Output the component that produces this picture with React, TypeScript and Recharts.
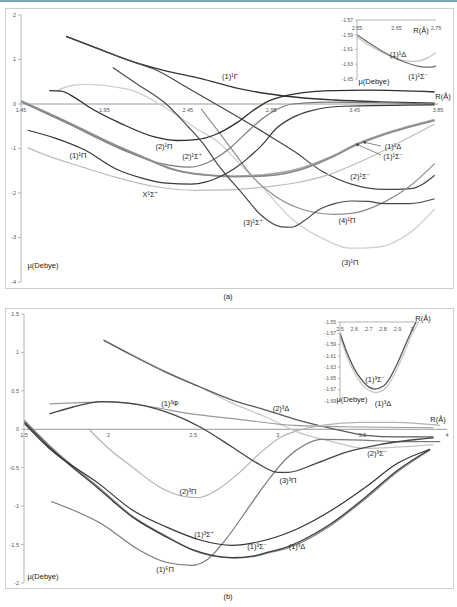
import React from 'react'
import { LineChart, Line, XAxis, YAxis, ReferenceLine, ReferenceDot } from 'recharts'

// dipole moment curves, panel (a) singlet states
type Pt = { x: number; y: number }
const pts = (a: number[][]): Pt[] => a.map(([x, y]) => ({ x, y }))

const aXTicks = [1.45, 1.95, 2.45, 2.95, 3.45, 3.95]
const aXLabels = ['1.45', '1.95', '2.45', '2.95', '3.45', '3.85']
const aYTicks = [-4, -3, -2, -1, 0, 1, 2]

const a1Gamma = pts([[1.72, 1.52], [1.9, 1.26], [2.12, 0.95], [2.3, 0.76], [2.53, 0.57], [2.73, 0.37], [2.93, 0.23], [3.13, 0.14], [3.33, 0.09], [3.6, 0.05], [3.93, 0.02]])
const a2SigmaM = pts([[1.72, 1.52], [1.9, 1.26], [2.12, 0.95], [2.25, 0.78], [2.45, 0.36], [2.7, -0.18], [2.95, -0.74], [3.09, -1.07], [3.25, -1.5], [3.43, -1.8], [3.63, -1.92], [3.79, -1.9], [3.93, -1.6]])
const a3SigmaP = pts([[2.0, 0.82], [2.15, 0.44], [2.32, 0.0], [2.45, -0.5], [2.54, -0.88], [2.63, -1.36], [2.77, -1.98], [2.89, -2.5], [3.01, -2.76], [3.07, -2.77], [3.15, -2.62], [3.23, -2.39], [3.33, -2.24], [3.43, -2.18], [3.53, -2.19], [3.63, -2.24], [3.78, -2.24], [3.93, -2.13]])
const a3Pi = pts([[1.67, 0.31], [1.75, 0.41], [1.85, 0.44], [2.0, 0.39], [2.12, 0.3], [2.32, -0.09], [2.5, -0.55], [2.63, -0.85], [2.75, -1.3], [2.88, -1.8], [3.08, -2.6], [3.28, -3.06], [3.42, -3.24], [3.58, -3.22], [3.78, -2.9], [3.93, -2.36]])
const a2Pi = pts([[1.62, 0.3], [1.69, 0.29], [1.77, 0.15], [1.85, -0.05], [2.05, -0.44], [2.25, -0.74], [2.38, -0.82], [2.5, -0.8], [2.62, -0.68], [2.74, -0.43], [2.84, -0.15], [2.93, 0.06], [3.03, 0.18], [3.13, 0.25], [3.33, 0.3], [3.53, 0.31], [3.93, 0.27]])
const a4Pi = pts([[2.53, -0.11], [2.63, -0.6], [2.73, -1.1], [2.83, -1.6], [2.93, -1.95], [3.13, -2.36], [3.33, -2.48], [3.43, -2.46], [3.63, -2.2], [3.78, -1.85], [3.93, -1.34]])
const a1Pi = pts([[1.49, -0.59], [1.65, -0.76], [1.83, -1.03], [2.02, -1.46], [2.17, -1.66], [2.32, -1.78], [2.47, -1.8], [2.56, -1.75], [2.66, -1.6], [2.73, -1.45], [2.8, -1.25], [2.9, -0.9], [2.98, -0.55], [3.08, -0.3], [3.18, -0.16], [3.38, -0.05], [3.93, -0.02]])
const aX1SigmaP = pts([[1.49, -0.98], [1.6, -1.15], [1.82, -1.42], [2.02, -1.65], [2.26, -1.86], [2.5, -1.94], [2.7, -1.93], [2.9, -1.87], [3.1, -1.77], [3.3, -1.58], [3.5, -1.27], [3.7, -0.9], [3.93, -0.45]])
const a1Delta = pts([[1.45, 0.07], [1.72, -0.39], [2.02, -0.93], [2.2, -1.22], [2.35, -1.45], [2.55, -1.593], [2.73, -1.62], [2.93, -1.58], [3.13, -1.44], [3.33, -1.15], [3.45, -0.92], [3.65, -0.64], [3.93, -0.35]])
const a1SigmaM = pts([[1.45, 0.06], [1.72, -0.4], [2.02, -0.94], [2.2, -1.23], [2.35, -1.46], [2.55, -1.59], [2.73, -1.634], [2.93, -1.61], [3.13, -1.47], [3.33, -1.17], [3.45, -0.94], [3.65, -0.66], [3.93, -0.37]])
const a2SigmaP = pts([[1.45, 0.05], [1.72, -0.42], [2.06, -1.03], [2.28, -1.33], [2.46, -1.42], [2.56, -1.33], [2.7, -1.0], [2.8, -0.65], [2.9, -0.32], [2.98, -0.13], [3.08, 0.0], [3.28, 0.04], [3.6, 0.03], [3.93, 0.0]])

// inset (a)
const iaXTicks = [2.55, 2.65, 2.75]
const iaYTicks = [-1.65, -1.63, -1.61, -1.59, -1.57]
const ia1SigmaM = pts([[2.55, -1.59], [2.58, -1.601], [2.61, -1.611], [2.64, -1.62], [2.67, -1.627], [2.7, -1.632], [2.72, -1.634], [2.74, -1.634], [2.75, -1.632]])
const ia1Delta = pts([[2.55, -1.593], [2.58, -1.604], [2.61, -1.613], [2.64, -1.62], [2.67, -1.625], [2.69, -1.626], [2.71, -1.625], [2.73, -1.621], [2.75, -1.614]])

// panel (b) triplet / quintet states
const bXTicks = [1.5, 2, 2.5, 3, 3.5, 4]
const bYTicks = [-2, -1.5, -1, -0.5, 0, 0.5, 1, 1.5]

const b2Delta = pts([[1.97, 1.16], [2.14, 0.96], [2.34, 0.74], [2.54, 0.55], [2.73, 0.38], [2.93, 0.25], [3.12, 0.12], [3.32, 0.01], [3.52, -0.08], [3.7, -0.1], [3.92, -0.1]])
const b2SigmaM = pts([[1.97, 1.16], [2.14, 0.97], [2.34, 0.75], [2.54, 0.55], [2.73, 0.34], [2.93, 0.16], [3.12, -0.04], [3.32, -0.16], [3.52, -0.25], [3.72, -0.23], [3.92, -0.2]])
const b1Phi = pts([[1.65, 0.33], [1.87, 0.35], [2.0, 0.36], [2.26, 0.29], [2.46, 0.21], [2.77, 0.13], [3.1, 0.05], [3.49, 0.03], [3.92, 0.02]])
const b3Pi = pts([[1.65, 0.2], [1.79, 0.29], [1.96, 0.36], [2.12, 0.34], [2.36, 0.21], [2.54, 0.03], [2.73, -0.23], [2.87, -0.43], [3.0, -0.56], [3.06, -0.56], [3.22, -0.45], [3.4, -0.3], [3.6, -0.2], [3.92, -0.11]])
const b2Pi = pts([[1.88, 0.01], [2.0, -0.25], [2.14, -0.49], [2.3, -0.75], [2.46, -0.88], [2.53, -0.89], [2.64, -0.79], [2.77, -0.57], [2.9, -0.3], [3.02, -0.1], [3.1, -0.03], [3.26, 0.05], [3.49, 0.09], [3.69, 0.09], [3.96, 0.05]])
const b5Pi = pts([[1.66, -0.94], [1.8, -1.06], [1.95, -1.22], [2.18, -1.57], [2.34, -1.73], [2.49, -1.77], [2.58, -1.7], [2.69, -1.44], [2.83, -1.01], [2.93, -0.7], [3.06, -0.36], [3.16, -0.2], [3.26, -0.13], [3.5, -0.14], [3.7, -0.16], [3.96, -0.16]])
const b1SigmaM = pts([[1.5, 0.1], [1.65, -0.23], [1.95, -0.79], [2.14, -1.14], [2.34, -1.4], [2.5, -1.57], [2.6, -1.635], [2.73, -1.67], [2.85, -1.65], [2.95, -1.595], [3.03, -1.55], [3.12, -1.47], [3.32, -1.22], [3.52, -0.88], [3.71, -0.53], [3.9, -0.26]])
const b1Delta = pts([[1.5, 0.12], [1.65, -0.21], [1.95, -0.77], [2.14, -1.13], [2.34, -1.39], [2.5, -1.575], [2.6, -1.64], [2.75, -1.676], [2.85, -1.658], [2.95, -1.605], [3.05, -1.55], [3.12, -1.49], [3.32, -1.24], [3.52, -0.9], [3.71, -0.55], [3.9, -0.27]])
const b1SigmaP = pts([[1.5, 0.08], [1.65, -0.25], [1.95, -0.72], [2.14, -1.05], [2.34, -1.27], [2.54, -1.44], [2.73, -1.51], [2.93, -1.44], [3.12, -1.29], [3.32, -1.05], [3.52, -0.75], [3.71, -0.44], [3.9, -0.26]])

// inset (b)
const ibXTicks = [2.5, 2.6, 2.7, 2.8, 2.9, 3]
const ibYTicks = [-1.69, -1.67, -1.65, -1.63, -1.61, -1.59, -1.57, -1.55]
const ib1SigmaM = pts([[2.5, -1.57], [2.55, -1.605], [2.6, -1.633], [2.65, -1.652], [2.7, -1.665], [2.74, -1.669], [2.8, -1.664], [2.85, -1.648], [2.9, -1.623], [2.95, -1.594], [3.0, -1.565], [3.03, -1.55]])
const ib1Delta = pts([[2.5, -1.575], [2.55, -1.612], [2.6, -1.64], [2.65, -1.659], [2.7, -1.671], [2.75, -1.675], [2.8, -1.671], [2.85, -1.656], [2.9, -1.632], [2.95, -1.603], [3.0, -1.572], [3.05, -1.55]])

const FONT = '"Liberation Sans", Arial, sans-serif'
const DARK = '#3a3a3a'
const LIGHT = '#c4c4c4'

const aSeries = [
  { key: 'a1Gamma', data: a1Gamma, color: '#333333', w: 1.3 },
  { key: 'a2SigmaM', data: a2SigmaM, color: '#464646', w: 1.2 },
  { key: 'aX1SigmaP', data: aX1SigmaP, color: '#bcbcbc', w: 1.2 },
  { key: 'a3Pi', data: a3Pi, color: '#cfcfcf', w: 1.3 },
  { key: 'a4Pi', data: a4Pi, color: '#8e8e8e', w: 1.2 },
  { key: 'a2SigmaP', data: a2SigmaP, color: '#7a7a7a', w: 1.2 },
  { key: 'a1Delta', data: a1Delta, color: '#a8a8a8', w: 1.8 },
  { key: 'a1SigmaM', data: a1SigmaM, color: '#8a8a8a', w: 1.6 },
  { key: 'a1Pi', data: a1Pi, color: DARK, w: 1.2 },
  { key: 'a3SigmaP', data: a3SigmaP, color: '#4a4a4a', w: 1.2 },
  { key: 'a2Pi', data: a2Pi, color: '#2e2e2e', w: 1.3 },
]

const bSeries = [
  { key: 'b2SigmaM', data: b2SigmaM, color: LIGHT, w: 1.2 },
  { key: 'b2Delta', data: b2Delta, color: '#5a5a5a', w: 1.3 },
  { key: 'b1Phi', data: b1Phi, color: '#9a9a9a', w: 1.2 },
  { key: 'b2Pi', data: b2Pi, color: '#b4b4b4', w: 1.2 },
  { key: 'b5Pi', data: b5Pi, color: '#7a7a7a', w: 1.2 },
  { key: 'b3Pi', data: b3Pi, color: '#444444', w: 1.3 },
  { key: 'b1Delta', data: b1Delta, color: '#8a8a8a', w: 1.3 },
  { key: 'b1SigmaM', data: b1SigmaM, color: '#3e3e3e', w: 1.3 },
  { key: 'b1SigmaP', data: b1SigmaP, color: '#333333', w: 1.2 },
]

const aLabels: [string, number, number][] = [
  ['(1)¹Γ', 230, 77], ['R(Å)', 443, 97], ['(2)¹Π', 164, 147], ['(2)¹Σ⁺', 192, 157],
  ['(1)¹Π', 78, 156], ['X¹Σ⁺', 150, 195], ['(1)¹Δ', 393, 147], ['(1)¹Σ⁻', 393, 157],
  ['(2)¹Σ⁻', 360, 177], ['(3)¹Σ⁺', 253, 223], ['(4)¹Π', 347, 221], ['(3)¹Π', 350, 263],
  ['μ(Debye)', 43, 266], ['(a)', 228, 297],
  ['R(Å)', 421, 31], ['(1)¹Δ', 398, 55], ['(1)¹Σ⁻', 418, 77], ['μ(Debye)', 374, 82],
]
const bLabels: [string, number, number][] = [
  ['(1)³Φ', 170, 404], ['(2)³Δ', 281, 409], ['R(Å)', 438, 420], ['(2)³Σ⁻', 377, 454],
  ['(3)³Π', 288, 481], ['(2)³Π', 188, 492], ['(1)³Σ⁺', 204, 535], ['(1)³Σ⁻', 257, 547],
  ['(1)³Δ', 297, 547], ['(1)⁵Π', 165, 570], ['μ(Debye)', 43, 577], ['(b)', 228, 597],
  ['R(Å)', 423, 319], ['(1)³Σ⁻', 375, 380], ['(1)³Δ', 383, 404], ['μ(Debye)', 352, 400],
]

const tickStyle = { fontSize: 5.5, fill: '#555', fontFamily: FONT }

function Lbl({ t, x, y }: { t: string; x: number; y: number }) {
  return (
    <div style={{ position: 'absolute', left: x, top: y, transform: 'translate(-50%,-50%)', fontSize: 7.5, lineHeight: 1, whiteSpace: 'nowrap', color: '#222', fontFamily: FONT }}>
      {t}
    </div>
  )
}

function xTickDots(ticks: number[], labels: string[], y: number, offset = 4) {
  return ticks.map((t, i) => (
    <ReferenceDot key={'xt' + t} x={t} y={y} r={0} fill="none" stroke="none" ifOverflow="visible"
      label={{ value: labels[i], position: 'bottom', offset, style: tickStyle }} />
  ))
}

export default function App() {
  return (
    <div style={{ position: 'absolute', left: 0, top: 0, width: 457, height: 607, background: '#fff', fontFamily: FONT, overflow: 'hidden' }}>
      <div style={{ position: 'absolute', left: 0, top: 0, width: 457, height: 2, background: '#7ba6b6' }} />
      <div style={{ position: 'absolute', left: 5, top: 8, width: 447, height: 279, border: '1px solid #cfcfcf' }} />
      <div style={{ position: 'absolute', left: 5, top: 308, width: 447, height: 279, border: '1px solid #cfcfcf' }} />

      {/* panel (a) */}
      <div style={{ position: 'absolute', left: 5, top: 8 }}>
        <LineChart width={448} height={280} margin={{ top: 7, right: 15, bottom: 6, left: 0 }}>
          <XAxis type="number" dataKey="x" domain={[1.45, 3.95]} ticks={aXTicks} hide allowDataOverflow />
          <YAxis type="number" domain={[-4, 2]} ticks={aYTicks} interval={0} width={16} tick={tickStyle}
            tickSize={3} tickMargin={2} axisLine={{ stroke: '#b5b5b5' }} tickLine={{ stroke: '#b5b5b5' }} />
          <ReferenceLine y={0} stroke="#9a9a9a" strokeWidth={1} />
          {xTickDots(aXTicks, aXLabels, 0)}
          {aSeries.map(s => (
            <Line key={s.key} data={s.data} dataKey="y" type="monotone" dot={false} stroke={s.color}
              strokeWidth={s.w} isAnimationActive={false} />
          ))}
        </LineChart>
      </div>

      {/* inset (a) */}
      <div style={{ position: 'absolute', left: 330, top: 14 }}>
        <LineChart width={115} height={75} margin={{ top: 6, right: 9, bottom: 10, left: 0 }}>
          <XAxis type="number" dataKey="x" domain={[2.55, 2.75]} ticks={iaXTicks} hide />
          <YAxis type="number" domain={[-1.65, -1.57]} ticks={iaYTicks} interval={0} width={27}
            tick={{ ...tickStyle, fontSize: 5 }} tickFormatter={(v: number) => v.toFixed(2)} tickSize={2}
            tickMargin={2} axisLine={{ stroke: '#b5b5b5' }} tickLine={{ stroke: '#b5b5b5' }} />
          <ReferenceLine y={-1.57} stroke="#b5b5b5" />
          {xTickDots(iaXTicks, iaXTicks.map(v => v.toFixed(2)), -1.57, 6)}
          <Line data={ia1Delta} dataKey="y" type="monotone" dot={false} stroke={LIGHT} strokeWidth={1.2} isAnimationActive={false} />
          <Line data={ia1SigmaM} dataKey="y" type="monotone" dot={false} stroke="#6a6a6a" strokeWidth={1.2} isAnimationActive={false} />
        </LineChart>
      </div>

      {/* panel (b) */}
      <div style={{ position: 'absolute', left: 5, top: 308 }}>
        <LineChart width={448} height={280} margin={{ top: 6, right: 6, bottom: 5, left: 0 }}>
          <XAxis type="number" dataKey="x" domain={[1.5, 4]} ticks={bXTicks} hide allowDataOverflow />
          <YAxis type="number" domain={[-2, 1.5]} ticks={bYTicks} interval={0} width={19} tick={tickStyle}
            tickSize={3} tickMargin={2} axisLine={{ stroke: '#b5b5b5' }} tickLine={{ stroke: '#b5b5b5' }} />
          <ReferenceLine y={0} stroke="#9a9a9a" strokeWidth={1} />
          {xTickDots(bXTicks, bXTicks.map(String), 0)}
          {bSeries.map(s => (
            <Line key={s.key} data={s.data} dataKey="y" type="monotone" dot={false} stroke={s.color}
              strokeWidth={s.w} isAnimationActive={false} />
          ))}
        </LineChart>
      </div>

      {/* inset (b) */}
      <div style={{ position: 'absolute', left: 300, top: 314 }}>
        <LineChart width={130} height={94} margin={{ top: 8, right: 11, bottom: 7, left: 0 }}>
          <XAxis type="number" dataKey="x" domain={[2.5, 3.05]} ticks={ibXTicks} hide />
          <YAxis type="number" domain={[-1.69, -1.55]} ticks={ibYTicks} interval={0} width={40}
            tick={{ ...tickStyle, fontSize: 5 }} tickFormatter={(v: number) => v.toFixed(2)} tickSize={2}
            tickMargin={2} axisLine={{ stroke: '#b5b5b5' }} tickLine={{ stroke: '#b5b5b5' }} />
          <ReferenceLine y={-1.55} stroke="#b5b5b5" />
          {xTickDots(ibXTicks, ibXTicks.map(String), -1.55, 5)}
          <Line data={ib1Delta} dataKey="y" type="monotone" dot={false} stroke={LIGHT} strokeWidth={1.2} isAnimationActive={false} />
          <Line data={ib1SigmaM} dataKey="y" type="monotone" dot={false} stroke="#555" strokeWidth={1.3} isAnimationActive={false} />
        </LineChart>
      </div>

      {/* label pointers in panel (a) */}
      <svg style={{ position: 'absolute', left: 0, top: 0 }} width={457} height={607}>
        <defs>
          <marker id="ah" markerWidth="5" markerHeight="5" refX="4" refY="2.5" orient="auto">
            <path d="M0,0 L5,2.5 L0,5 z" fill="#444" />
          </marker>
        </defs>
        <line x1={381} y1={146} x2={363} y2={142} stroke="#555" strokeWidth={0.7} markerEnd="url(#ah)" />
        <line x1={381} y1={155} x2={356} y2={144} stroke="#555" strokeWidth={0.7} markerEnd="url(#ah)" />
      </svg>

      {[...aLabels, ...bLabels].map(([t, x, y], i) => <Lbl key={i} t={t} x={x} y={y} />)}
    </div>
  )
}
